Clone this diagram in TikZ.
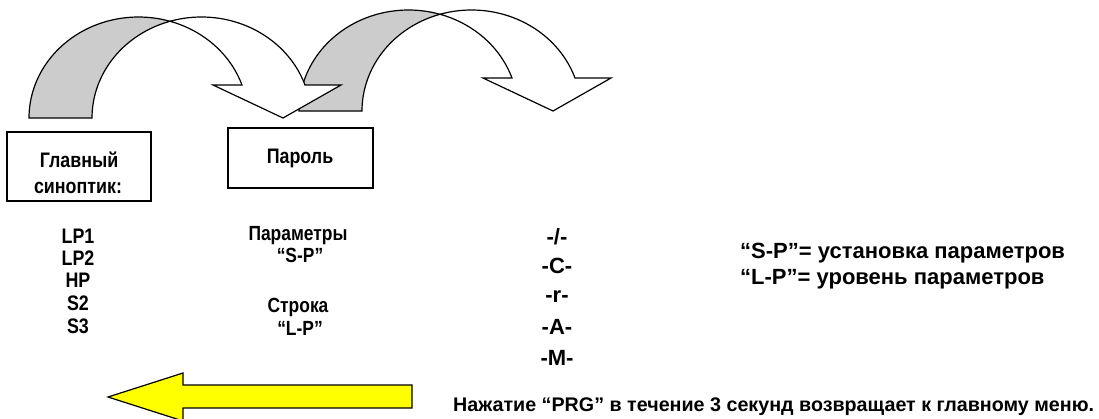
\documentclass[tikz,border=0pt]{standalone}
\usepackage{fontspec}
\setmainfont{Liberation Sans}
\newfontfamily\narrowf{Liberation Sans}[FakeStretch=0.85]
\definecolor{bandgray}{RGB}{204,204,204}
\definecolor{arrowyellow}{RGB}{255,255,0}
\newcommand\bentarrow{%
  \filldraw[backband] plot[domain=180:73.28,samples=50] ({138.5+109.5*cos(\x)},{118-101*sin(\x)})
     -- plot[domain=106.72:180,samples=50] ({201.5+109.5*cos(\x)},{118-101*sin(\x)}) -- cycle;
  \filldraw[frontband] plot[domain=73.28:19.07,samples=50] ({138.5+109.5*cos(\x)},{118-101*sin(\x)})
     -- (213,85) -- (283,118) -- (341,85)
     -- plot[domain=19.07:106.72,samples=60] ({201.5+109.5*cos(\x)},{118-101*sin(\x)}) -- cycle;
}
\tikzset{
  backband/.style={fill=bandgray, draw=black, line width=1.2pt, line join=miter},
  frontband/.style={fill=white, draw=black, line width=1.2pt, line join=miter},
  boxst/.style={draw=black, line width=1.5pt, fill=white, inner sep=0pt},
  ntxt/.style={inner sep=0pt, anchor=base, font=\narrowf\bfseries\fontsize{21}{25}\selectfont},
  ptxt/.style={inner sep=0pt, anchor=base, font=\narrowf\bfseries\fontsize{20.5}{24}\selectfont},
  ctxt/.style={inner sep=0pt, anchor=base, font=\bfseries\fontsize{22}{26}\selectfont},
  rtxt/.style={inner sep=0pt, anchor=base west, font=\bfseries\fontsize{22}{26}\selectfont},
  btxt/.style={inner sep=0pt, anchor=base west, font=\bfseries\fontsize{19.7}{23}\selectfont},
  yel/.style={fill=arrowyellow, draw=black, line width=1.2pt, line join=miter},
}
\begin{document}
\begin{tikzpicture}[x=1pt,y=-1pt]
\useasboundingbox (0,0) rectangle (1099,418);
\fill[white] (0,0) rectangle (1099,418);
% curved arrows
\begin{scope}[shift={(270,-7)}]
  \bentarrow
\end{scope}
\bentarrow
% boxes
\node[boxst, minimum width=144pt, minimum height=69pt] (mainbox) at (79,166.5) {};
\node[boxst, minimum width=145pt, minimum height=60pt] (pwbox) at (300.5,158) {};
\node[ntxt] (glav1) at (79,167) {Главный};
\node[ntxt] (glav2) at (78,193) {синоптик:};
\node[ntxt] (parol) at (300,163) {Пароль};
% left list
\node[ntxt] (lp1) at (78,243) {LP1};
\node[ntxt] (lp2) at (78,265) {LP2};
\node[ntxt] (hp) at (78,287) {HP};
\node[ntxt] (s2) at (78,310) {S2};
\node[ntxt] (s3) at (78,333) {S3};
% middle list
\node[ptxt] (param) at (298,240) {Параметры};
\node[ptxt] (sp) at (300,262) {“S-P”};
\node[ptxt] (stroka) at (298,312) {Строка};
\node[ptxt] (lp) at (300,335) {“L-P”};
% code list
\node[ctxt] (c1) at (557,244) {-/-};
\node[ctxt] (c2) at (557,273) {-C-};
\node[ctxt] (c3) at (557,302) {-r-};
\node[ctxt] (c4) at (557,334) {-A-};
\node[ctxt] (c5) at (557,365) {-M-};
% legend
\node[rtxt] (leg1) at (740,258) {“S-P"= установка параметров};
\node[rtxt] (leg2) at (740,284) {“L-P”= уровень параметров};
% yellow arrow
\filldraw[yel] (412,385) -- (183,385) -- (183,373) -- (108,397) -- (183,421) -- (183,408) -- (412,408) -- cycle;
\node[btxt] (note) at (453,411) {Нажатие “PRG” в течение 3 секунд возвращает к главному меню.};
\end{tikzpicture}
\end{document}
